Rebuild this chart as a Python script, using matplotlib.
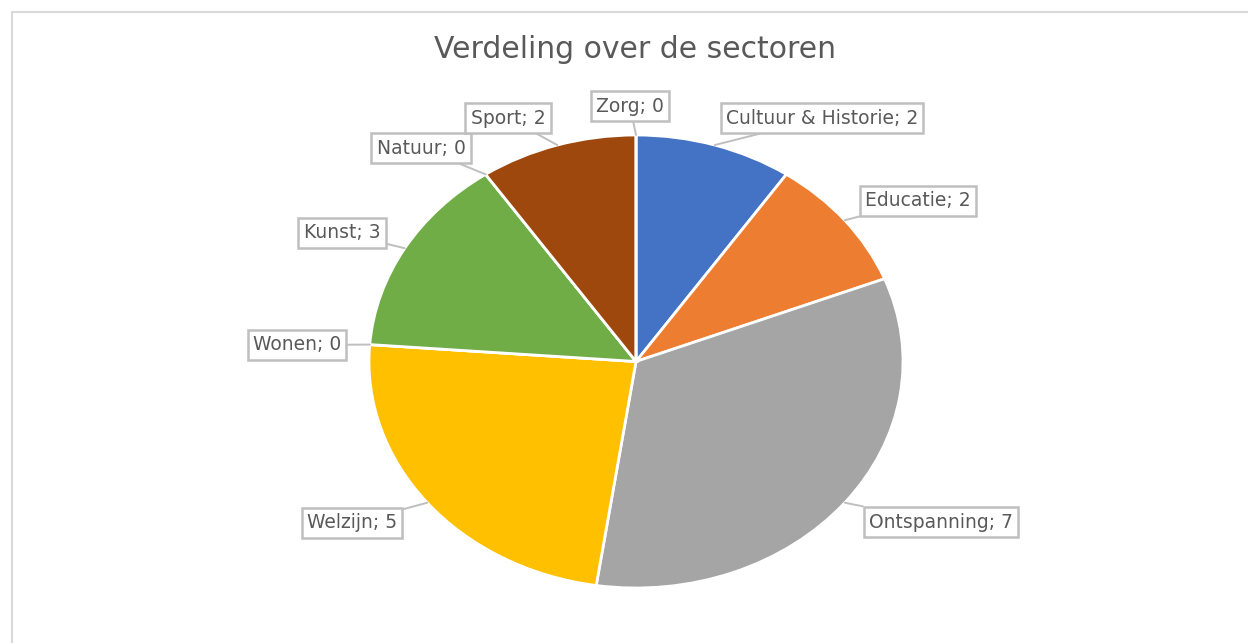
import numpy as np
import matplotlib.pyplot as plt
from matplotlib.lines import Line2D

# Data
sectors = ['Cultuur & Historie', 'Educatie', 'Ontspanning', 'Welzijn', 'Wonen',
           'Kunst', 'Natuur', 'Sport', 'Zorg']
counts = [2, 2, 7, 5, 0, 3, 0, 2, 0]
colors = ['#4472C4', '#ED7D31', '#A5A5A5', '#FFC000', '#5B9BD5',
          '#70AD47', '#264478', '#9E480E', '#636363']

# label box centres in image pixels (layout)
label_pos = [(822, 118), (918, 201), (941, 522), (352, 523), (297, 345),
             (342, 233), (421, 148), (508, 118), (630, 106)]

W, H = 1248, 643
fig = plt.figure(figsize=(W / 100, H / 100), dpi=100)
plt.rcParams['font.family'] = ['DejaVu Sans']

# chart border (partially visible)
fig.add_artist(Line2D([12 / W, 12 / W], [0, 1 - 12 / H], color='#D9D9D9', lw=1.5))
fig.add_artist(Line2D([12 / W, 1], [1 - 12 / H, 1 - 12 / H], color='#D9D9D9', lw=1.5))

# pie occupies an elliptical area
left, right, top, bottom = 369, 903, 135, 588
ax = fig.add_axes([left / W, 1 - bottom / H, (right - left) / W, (bottom - top) / H])
wedges, _ = ax.pie(counts, colors=colors, startangle=90, counterclock=False,
                   radius=1, wedgeprops=dict(edgecolor='white', linewidth=2))
ax.set_xlim(-1, 1)
ax.set_ylim(-1, 1)
ax.set_aspect('auto')
ax.axis('off')

# data labels with leader lines
total = sum(counts)
start = 90
for name, val, (px, py) in zip(sectors, counts, label_pos):
    span = 360 * val / total
    mid = np.deg2rad(start - span / 2)
    start -= span
    ax.annotate(f'{name}; {val}', xy=(np.cos(mid), np.sin(mid)), xycoords='data',
                xytext=(px / W, 1 - py / H), textcoords='figure fraction',
                ha='center', va='center', fontsize=13.5, color='#595959',
                bbox=dict(boxstyle='square,pad=0.28', fc='white', ec='#BFBFBF', lw=1.8),
                arrowprops=dict(arrowstyle='-', color='#BFBFBF', lw=1.4,
                                shrinkA=0, shrinkB=0),
                annotation_clip=False)

fig.text(635 / W, 1 - 50 / H, 'Verdeling over de sectoren', ha='center', va='center',
         fontsize=21.5, color='#595959')

fig.savefig('out.png', dpi=100)
